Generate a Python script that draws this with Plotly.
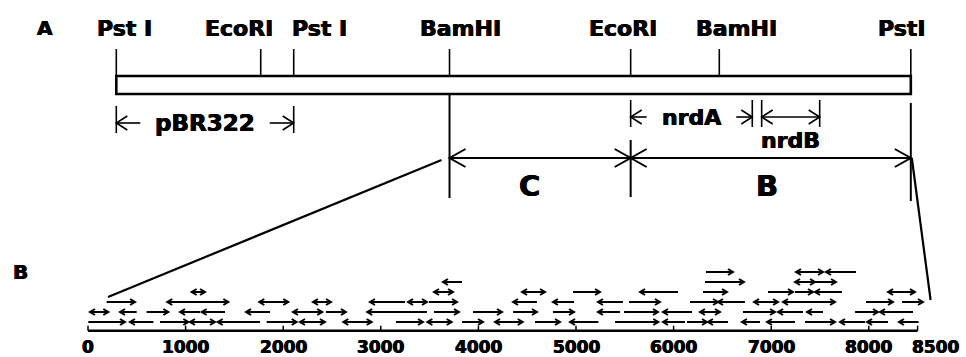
import plotly.graph_objects as go

# ---------------- data ----------------
# Panel A: restriction map, positions in bp from the left PstI site
SITE_NAMES = ["Pst I", "EcoRI", "Pst I", "BamHI", "EcoRI", "BamHI", "PstI"]
SITE_POS = [0, 2661, 3269, 6140, 9478, 11111, 14640]

GENE_NAMES = ["pBR322", "nrdA", "nrdB"]
GENE_START = [0, 9478, 11892]
GENE_END = [3269, 11719, 12961]

FRAG_NAMES = ["C", "B"]
FRAG_START = [6140, 9478]
FRAG_END = [9478, 14640]

# Panel B: sequencing strategy along the BamHI-PstI fragment (bp)
# direction: "R" = rightward, "L" = leftward, "B" = both ends
ROW1_START = [3, 430, 738, 1045, 1329, 1831, 2172, 2616, 3156, 3477, 3832, 4170,
              4580, 4939, 5400, 5891, 6137, 6352, 6700, 6957, 7346, 7705, 7982, 8309]
ROW1_END = [379, 670, 1028, 1301, 1762, 2138, 2428, 2906, 3432, 3726, 4047, 4454,
            4836, 5229, 5843, 6117, 6342, 6557, 6885, 7244, 7654, 7961, 8197, 8510]
ROW1_DIR = ["R", "L", "R", "B", "L", "R", "B", "B", "R", "B", "R", "B",
            "R", "L", "R", "L", "R", "L", "L", "L", "R", "L", "L", "L"]

ROW2_START = [20, 328, 601, 943, 1165, 1619, 2100, 2438, 2861, 3545, 3945, 4355,
              4764, 5225, 5492, 5891, 6270, 6711, 7070, 7367, 7859, 8115]
ROW2_END = [208, 499, 823, 1148, 1404, 1865, 2400, 2643, 3473, 3801, 4242, 4600,
            4980, 5450, 5840, 6189, 6475, 7039, 7326, 7531, 8094, 8453]
ROW2_DIR = ["B", "L", "R", "L", "L", "L", "B", "R", "L", "R", "R", "R",
            "R", "L", "R", "L", "B", "R", "L", "L", "R", "L"]

ROW3_START = [191, 812, 1755, 2305, 2889, 3279, 3494, 4355, 4764, 5225, 5543,
              6168, 6455, 6824, 7121, 7971, 8340]
ROW3_END = [482, 1438, 2052, 2490, 3248, 3473, 3781, 4600, 4980, 5481, 5860,
            6455, 6731, 7070, 7654, 8248, 8555]
ROW3_DIR = ["R", "B", "B", "B", "L", "B", "R", "L", "L", "L", "R",
            "R", "L", "B", "B", "R", "R"]

ROW4_START = [1062, 3545, 4447, 4969, 5656, 6301, 6967, 7244, 7449, 8197]
ROW4_END = [1199, 3740, 4683, 5246, 6045, 6547, 7223, 7428, 7725, 8473]
ROW4_DIR = ["B", "B", "B", "R", "L", "R", "R", "R", "L", "B"]

ROW5_START = [3637, 6322, 7244, 7449]
ROW5_END = [3832, 6721, 7449, 7664]
ROW5_DIR = ["L", "R", "B", "R"]

ROW6_START = [6332, 7254, 7561]
ROW6_END = [6608, 7531, 7869]
ROW6_DIR = ["R", "B", "L"]

ROWS = [
    (1, ROW1_START, ROW1_END, ROW1_DIR),
    (2, ROW2_START, ROW2_END, ROW2_DIR),
    (3, ROW3_START, ROW3_END, ROW3_DIR),
    (4, ROW4_START, ROW4_END, ROW4_DIR),
    (5, ROW5_START, ROW5_END, ROW5_DIR),
    (6, ROW6_START, ROW6_END, ROW6_DIR),
]

TICK_VALUES = [0, 1000, 2000, 3000, 4000, 5000, 6000, 7000, 8000, 8500]
TICK_LABELS = ["0", "1000", "2000", "3000", "4000", "5000", "6000", "7000", "8000", "8500"]

# ---------------- layout constants ----------------
W, H = 966, 357
X_RANGE = [-901.6, 8995.9]      # bottom scale (bp)
Y_RANGE = [-2.5, 33.2]          # arrow rows
X2_RANGE = [-2143.0, 15657.0]   # restriction map (bp)
Y2_RANGE = [357, 0]             # vertical position for panel A (screen units)

SX = W / (X_RANGE[1] - X_RANGE[0])
SY = H / (Y_RANGE[1] - Y_RANGE[0])
SX2 = W / (X2_RANGE[1] - X2_RANGE[0])


def px_b(v):
    return (v - X_RANGE[0]) * SX


def px_a(m):
    return (m - X2_RANGE[0]) * SX2


def from_px_a(p):
    return p / SX2 + X2_RANGE[0]


BLACK = "black"
FONT = "DejaVu Sans"
HEAVY = "0.45px 0px 0px black, -0.45px 0px 0px black"

fig = go.Figure()
shapes = []
annotations = []


def seg_a(x0, y0, x1, y1, w=2.0):
    shapes.append(dict(type="line", xref="x2", yref="y2", x0=x0, y0=y0, x1=x1, y1=y1,
                       line=dict(color=BLACK, width=w)))


def head_a(x, y, direction, length_px, half_px, w=1.8):
    # open chevron head with tip at (x, y); direction +1 points right, -1 left
    dx = -direction * length_px / SX2
    xs = [x + dx, x, x + dx]
    ys = [y - half_px, y, y + half_px]
    shapes.append(dict(type="path", xref="x2", yref="y2",
                       path=f"M {xs[0]},{ys[0]} L {xs[1]},{ys[1]} L {xs[2]},{ys[2]}",
                       line=dict(color=BLACK, width=w)))


def label(text, x, y, size, xref="x2", yref="y2", xshift=0, xanchor="center"):
    annotations.append(dict(text=text, x=x, y=y, xref=xref, yref=yref, showarrow=False,
                            xanchor=xanchor, yanchor="middle", xshift=xshift,
                            font=dict(family=FONT, size=size, color=BLACK, weight="bold",
                                      shadow=HEAVY)))


# ---------- panel letters ----------
label("A", 35 / W, 28, 20, xref="paper", yref="y2", xanchor="left")
label("B", 11 / W, 272, 20, xref="paper", yref="y2", xanchor="left")

# ---------- Panel A ----------
SITE_LABEL_SHIFT = [8, -22, 26, 11, -8, 17, -9]
for name, pos, sh in zip(SITE_NAMES, SITE_POS, SITE_LABEL_SHIFT):
    seg_a(pos, 49, pos, 76, 1.6)
    label(name, pos, 28, 22, xshift=sh)

# the plasmid bar
shapes.append(dict(type="rect", xref="x2", yref="y2", x0=SITE_POS[0], x1=SITE_POS[-1],
                   y0=76, y1=94, line=dict(color=BLACK, width=2.6), fillcolor="white"))

# genes
GENE_Y = [123, 117, 117]
GENE_SHAFT_PX = [24, 16, None]
for name, s, e, gy, shaft in zip(GENE_NAMES, GENE_START, GENE_END, GENE_Y, GENE_SHAFT_PX):
    seg_a(s, gy - 17, s, gy + 10, 1.6)
    seg_a(e, gy - 17, e, gy + 10, 1.6)
    if shaft is not None:
        seg_a(s, gy, s + shaft / SX2, gy, 1.6)
        seg_a(e - shaft / SX2, gy, e, gy, 1.6)
        head_a(s, gy, -1, 11, 7, 1.6)
        head_a(e, gy, 1, 11, 7, 1.6)
        label(name, (s + e) / 2, gy, 22 if name != "pBR322" else 23)
    else:
        seg_a(s, gy, e, gy, 1.6)
        head_a(s, gy, -1, 11, 7, 1.6)
        head_a(e, gy, 1, 11, 7, 1.6)
        label(name, (s + e) / 2, gy + 23, 22)

# fragments C and B
FRAG_Y = 158
seg_a(FRAG_START[0], FRAG_Y, FRAG_END[-1], FRAG_Y, 2.0)
seg_a(FRAG_START[0], 94, FRAG_START[0], 198, 2.0)
seg_a(FRAG_END[0], 140, FRAG_END[0], 197, 2.0)
seg_a(FRAG_END[-1], 103, FRAG_END[-1], 201, 2.0)
FRAG_LABEL_SHIFT = [-11, -4]
for name, s, e, sh in zip(FRAG_NAMES, FRAG_START, FRAG_END, FRAG_LABEL_SHIFT):
    head_a(s, FRAG_Y, -1, 16, 9, 2.0)
    head_a(e, FRAG_Y, 1, 16, 9, 2.0)
    label(name, (s + e) / 2, 186, 29, xshift=sh)

# expansion lines from map to the sequencing scale
left_top = from_px_a(px_a(FRAG_START[0]) - 8)
left_bot = from_px_a(px_b(TICK_VALUES[0]) + 20)
right_top = from_px_a(px_a(FRAG_END[-1]) + 1)
right_bot = from_px_a(px_b(TICK_VALUES[-1]) + 13)
seg_a(left_top, 160, left_bot, 297, 2.2)
seg_a(right_top, 158, right_bot, 300, 2.2)

# ---------- Panel B ----------
AXIS_Y = 0.13
shapes.append(dict(type="line", xref="x", yref="y", x0=TICK_VALUES[0], x1=TICK_VALUES[-1],
                   y0=AXIS_Y, y1=AXIS_Y, line=dict(color=BLACK, width=2.6)))
for t, lab in zip(TICK_VALUES, TICK_LABELS):
    shapes.append(dict(type="line", xref="x", yref="y", x0=t, x1=t,
                       y0=AXIS_Y, y1=AXIS_Y + 0.5, line=dict(color=BLACK, width=1.5)))
    if lab == "8500":
        label(lab, t, -1.5, 17, xref="x", yref="y", xanchor="left", xshift=-8)
    else:
        label(lab, t, -1.5, 17, xref="x", yref="y")

HL = 5 / SX     # arrow head length (bp)
HH = 3 / SY     # arrow head half height (rows)
xs, ys = [], []
for row, starts, ends, dirs in ROWS:
    for s, e, d in zip(starts, ends, dirs):
        xs += [s, e, None]
        ys += [row, row, None]
        if d in ("R", "B"):
            xs += [e - HL, e, e - HL, None]
            ys += [row + HH, row, row - HH, None]
        if d in ("L", "B"):
            xs += [s + HL, s, s + HL, None]
            ys += [row + HH, row, row - HH, None]

fig.add_trace(go.Scatter(x=xs, y=ys, mode="lines", line=dict(color=BLACK, width=2),
                         hoverinfo="skip", showlegend=False, xaxis="x", yaxis="y"))
# invisible anchor trace for the map axes
fig.add_trace(go.Scatter(x=[SITE_POS[0]], y=[0], mode="markers", marker=dict(opacity=0),
                         hoverinfo="skip", showlegend=False, xaxis="x2", yaxis="y2"))

fig.update_layout(
    width=W, height=H,
    margin=dict(l=0, r=0, t=0, b=0),
    paper_bgcolor="white", plot_bgcolor="white",
    showlegend=False,
    xaxis=dict(range=X_RANGE, visible=False, domain=[0, 1], fixedrange=True),
    yaxis=dict(range=Y_RANGE, visible=False, domain=[0, 1], fixedrange=True),
    xaxis2=dict(range=X2_RANGE, visible=False, overlaying="x", fixedrange=True),
    yaxis2=dict(range=Y2_RANGE, visible=False, overlaying="y", fixedrange=True),
    shapes=shapes,
    annotations=annotations,
)

fig.write_html("out.html", config={"displayModeBar": False},
               post_script="document.body.style.margin='0px';")
